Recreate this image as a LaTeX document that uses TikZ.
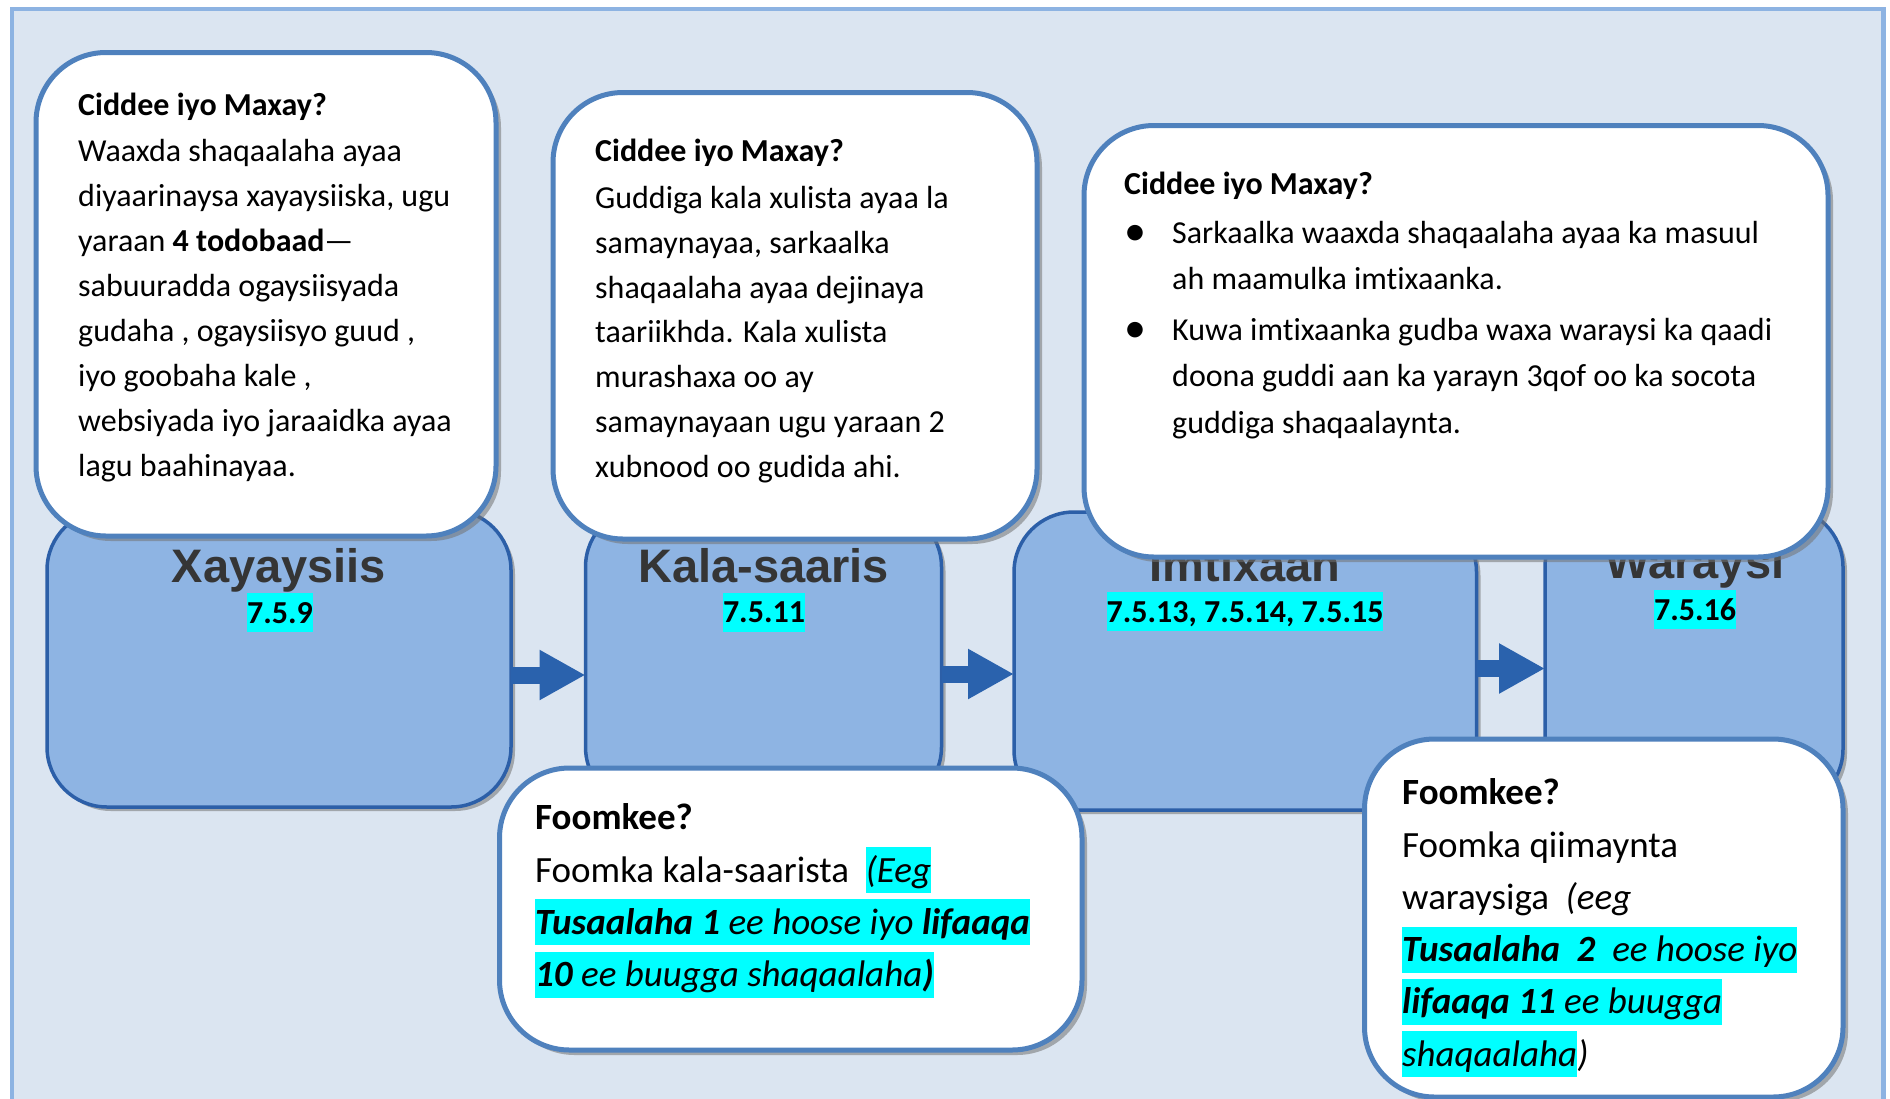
\documentclass[tikz,border=0pt]{standalone}
\usepackage{fontspec}
\setmainfont{Carlito}[Ligatures=NoCommon]
\newfontfamily\headfont{Liberation Sans}
\usetikzlibrary{arrows.meta,shadows}
\definecolor{bgblue}{HTML}{DBE5F1}
\definecolor{bgborder}{HTML}{8DB3E2}
\definecolor{boxfill}{HTML}{8EB4E3}
\definecolor{boxline}{HTML}{2C5FA8}
\definecolor{callline}{HTML}{4F81BD}
\definecolor{arrowblue}{HTML}{2A62AD}
\definecolor{headgray}{HTML}{353535}
\definecolor{hlcyan}{HTML}{00FFFF}
\newcommand\hl[1]{{\setlength{\fboxsep}{0pt}\colorbox{hlcyan}{\rule[-11pt]{0pt}{46pt}#1}}}
\newcommand\topstrut{\rule{0pt}{36pt}}
\newcommand\bul{\makebox[48pt][l]{\raisebox{-2pt}{\fontsize{44}{44}\selectfont\textbullet}}}
\newcommand\ind{\hspace*{48pt}}
\begin{document}
\begin{tikzpicture}[x=1pt,y=-1pt,
 bluebox/.style={draw=boxline, line width=3.5pt, fill=boxfill, rounded corners=60pt, inner sep=0pt, outer sep=0pt,
   drop shadow={shadow xshift=4pt, shadow yshift=-4pt, opacity=0.55, fill=black!55}},
 callout/.style={draw=callline, line width=5pt, fill=white, rounded corners=70pt, inner sep=0pt, outer sep=0pt,
   drop shadow={shadow xshift=5pt, shadow yshift=-5pt, opacity=0.55, fill=black!55}},
 heading/.style={font=\headfont\bfseries\fontsize{47}{47}\selectfont, text=headgray, anchor=base, inner sep=0pt},
 badge/.style={font=\bfseries\fontsize{32}{32}\selectfont, fill=hlcyan, inner sep=0pt, text height=30pt, text depth=9pt, anchor=base},
 body/.style={font=\fontsize{32}{45}\selectfont, align=left, anchor=north west, inner sep=0pt},
 formtext/.style={font=\fontsize{37}{52.3}\selectfont, align=left, anchor=north west, inner sep=0pt},
 flow/.style={draw=arrowblue, line width=17pt, -{Triangle[length=46pt,width=47pt]}},
]
\useasboundingbox (0,0) rectangle (1890,1098);
\fill[white] (0,0) rectangle (1890,1098);
\draw[draw=bgborder, fill=bgblue, line width=4.5pt] (12,9) rectangle (1883.5,1130);

% process boxes
\node[bluebox, minimum width=464pt, minimum height=297pt] (b1) at (279,658.5) {};
\node[bluebox, minimum width=356pt, minimum height=300pt] (b2) at (763.5,657) {};
\node[bluebox, minimum width=462.5pt, minimum height=298pt] (b3) at (1245.25,661) {};
\node[bluebox, minimum width=298pt, minimum height=302pt] (b4) at (1694,658) {};

\node[heading] (h1) at (279,582) {Xayaysiis};
\node[heading] (h2) at (763.5,582) {Kala-saaris};
\node[heading] (h3) at (1245,581) {Imtixaan};
\node[heading] (h4) at (1695,578) {Waraysi};

\node[badge] (n1) at (280,623) {7.5.9};
\node[badge] (n2) at (764,622.5) {7.5.11};
\node[badge] (n3) at (1245,622) {7.5.13, 7.5.14, 7.5.15};
\node[badge] (n4) at (1695,620) {7.5.16};

% arrows
\coordinate (y1) at (0,675);
\coordinate (y2) at (0,674);
\coordinate (y3) at (0,668.5);
\draw[flow] (b1.east |- y1) -- (b2.west |- y1);
\draw[flow] (b2.east |- y2) -- (b3.west |- y2);
\draw[flow] (b3.east |- y3) -- (b4.west |- y3);

% callouts
\node[callout, minimum width=460pt, minimum height=483.5pt] (c1) at (266,294.25) {};
\node[callout, minimum width=484pt, minimum height=446.5pt] (c2) at (795,315.75) {};
\node[callout, minimum width=744pt, minimum height=431.5pt] (c3) at (1456,341.25) {};
\node[callout, minimum width=582.5pt, minimum height=282pt] (c4) at (790.75,909) {};
\node[callout, minimum width=478.5pt, minimum height=358pt] (c5) at (1603.75,918) {};

\node[body] (t1) at (78,79) {\topstrut\textbf{Ciddee iyo Maxay?}\\[1pt]
Waaxda shaqaalaha ayaa\\
diyaarinaysa xayaysiiska, ugu\\
yaraan \textbf{4 todobaad}—\\
sabuuradda ogaysiisyada\\
gudaha , ogaysiisyo guud ,\\
iyo goobaha kale ,\\
websiyada iyo jaraaidka ayaa\\
lagu baahinayaa.};

\node[body, font=\fontsize{32}{44.8}\selectfont] (t2) at (595,125) {\topstrut\textbf{Ciddee iyo Maxay?}\\[2.5pt]
Guddiga kala xulista ayaa la\\
samaynayaa, sarkaalka\\
shaqaalaha ayaa dejinaya\\
taariikhda. Kala xulista\\
murashaxa oo ay\\
samaynayaan ugu yaraan 2\\
xubnood oo gudida ahi.};

\node[body, font=\fontsize{32}{46}\selectfont] (t3) at (1124,158) {\topstrut\textbf{Ciddee iyo Maxay?}\\[3pt]
\bul Sarkaalka waaxda shaqaalaha ayaa ka masuul\\
\ind ah maamulka imtixaanka.\\[5pt]
\bul Kuwa imtixaanka gudba waxa waraysi ka qaadi\\
\ind doona guddi aan ka yarayn 3qof oo ka socota\\[1pt]
\ind guddiga shaqaalaynta.};

\node[formtext] (t4) at (535,793.5) {\topstrut\textbf{Foomkee?}\\
Foomka kala-saarista\ \ \hl{\textit{(Eeg}}\\
\hl{\textit{\textbf{Tusaalaha 1} ee hoose iyo \textbf{lifaaqa}}}\\
\hl{\textit{\textbf{10} ee buugga shaqaalaha\textbf{)}}}};

\node[formtext] (t5) at (1402,768.5) {\topstrut\textbf{Foomkee?}\\
Foomka qiimaynta\\
waraysiga\ \ \textit{(eeg}\\
\hl{\textit{\textbf{Tusaalaha}\ \ \textbf{2}\ \ ee hoose iyo}}\\
\hl{\textit{\textbf{lifaaqa 11} ee buugga}}\\
\hl{\textit{shaqaalaha}}\textit{)}};
\end{tikzpicture}
\end{document}
